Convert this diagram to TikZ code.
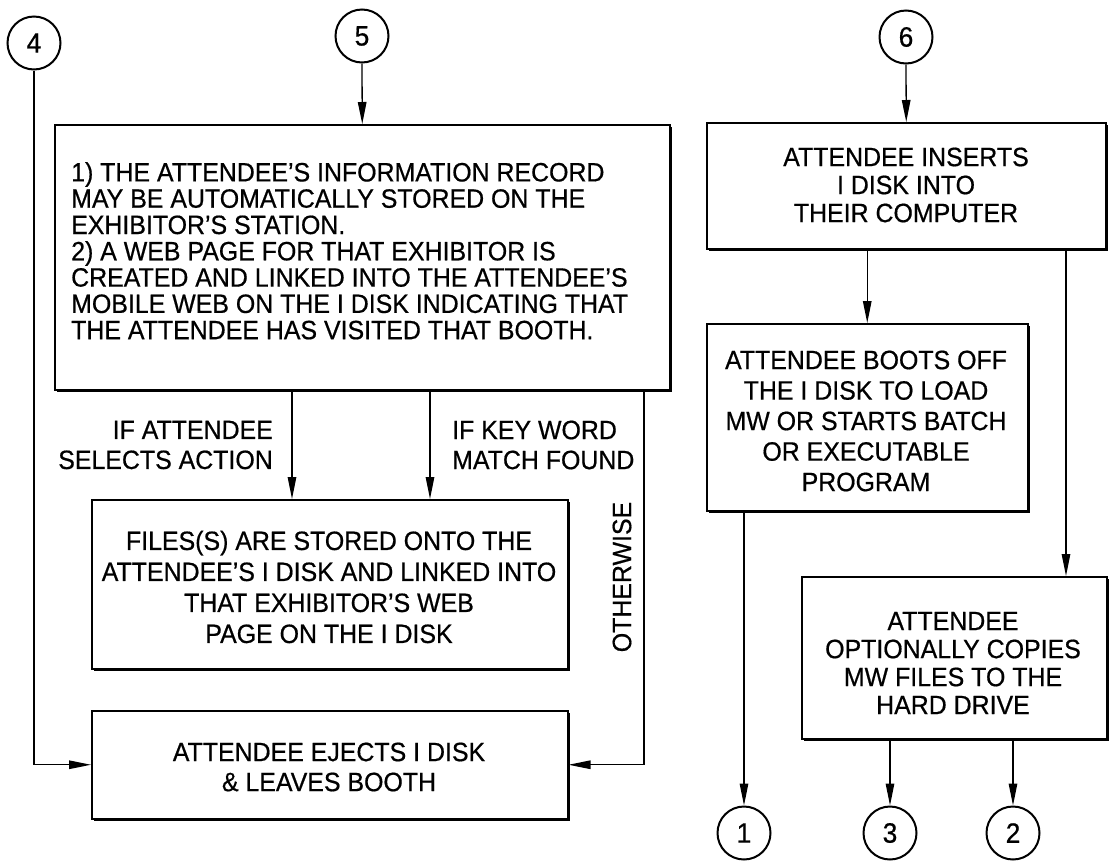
\documentclass[tikz,border=0pt]{standalone}
\usepackage{fontspec}
\setmainfont[FakeStretch=0.94,FakeBold=0.6]{Liberation Sans}
\usetikzlibrary{arrows.meta,shadows}
\begin{document}
\begin{tikzpicture}[x=1pt,y=-1pt,
  boxst/.style={draw,line width=1.5pt,fill=white,rectangle,inner sep=0pt,anchor=north west,
    drop shadow={shadow xshift=2.4pt,shadow yshift=-2.4pt,fill=black,opacity=1}},
  txt/.style={inner sep=0pt,font=\fontsize{26.5}{#1}\selectfont},
  txt/.default=26.3,
  conn/.style={circle,draw,line width=2pt,minimum size=53pt,inner sep=0pt,font=\fontsize{28}{28}\selectfont},
  arr/.style={line width=1.3pt,-{Triangle[length=22pt,width=8.5pt]}}]
\useasboundingbox (0,0) rectangle (1111,860);
% connectors (circles)
\node[conn] (c4) at (34,43) {4};
\node[conn] (c5) at (362,36) {5};
\node[conn] (c6) at (906,37) {6};
\node[conn] (c1) at (744,833) {1};
\node[conn] (c3) at (890,833) {3};
\node[conn] (c2) at (1013,833) {2};
% boxes
\node[boxst,minimum width=615pt,minimum height=265pt] (b1) at (54,124) {};
\node[boxst,minimum width=476pt,minimum height=169pt] (b2) at (91,499) {};
\node[boxst,minimum width=476pt,minimum height=108pt] (b5) at (91,710) {};
\node[boxst,minimum width=399pt,minimum height=126pt] (b3) at (706,122) {};
\node[boxst,minimum width=321pt,minimum height=187pt] (b4) at (706,323) {};
\node[boxst,minimum width=305pt,minimum height=162pt] (b6) at (801,576) {};
% texts
\node[txt,anchor=north west,align=left] (t1) at (71,162) {1) THE ATTENDEE’S INFORMATION RECORD\\MAY BE AUTOMATICALLY STORED ON THE\\EXHIBITOR’S STATION.\\2) A WEB PAGE FOR THAT EXHIBITOR IS\\CREATED AND LINKED INTO THE ATTENDEE’S\\MOBILE WEB ON THE I DISK INDICATING THAT\\THE ATTENDEE HAS VISITED THAT BOOTH.};
\node[txt=31,align=center] (t2) at (329,587) {FILES(S) ARE STORED ONTO THE\\ATTENDEE’S I DISK AND LINKED INTO\\THAT EXHIBITOR’S WEB\\PAGE ON THE I DISK};
\node[txt=30,align=center] (t5) at (329,767) {ATTENDEE EJECTS I DISK\\\& LEAVES BOOTH};
\node[txt=28,align=center] (t3) at (906,185) {ATTENDEE INSERTS\\I DISK INTO\\THEIR COMPUTER};
\node[txt=30.5,align=center] (t4) at (866,421) {ATTENDEE BOOTS OFF\\THE I DISK TO LOAD\\MW OR STARTS BATCH\\OR EXECUTABLE\\PROGRAM};
\node[txt=28,align=center] (t6) at (953,663) {ATTENDEE\\OPTIONALLY COPIES\\MW FILES TO THE\\HARD DRIVE};
\node[txt=30,align=right,anchor=east] (la) at (273,445) {IF ATTENDEE\\SELECTS ACTION};
\node[txt=30,align=left,anchor=west] (lb) at (452,445) {IF KEY WORD\\MATCH FOUND};
\node[txt,rotate=90] (lc) at (622,577) {OTHERWISE};
% helper x positions
\coordinate (xa) at (292,0);
\coordinate (xb) at (430,0);
\coordinate (xo) at (644,0);
\coordinate (xe) at (1066,0);
% arrows
\draw[arr] (c4.south) |- (b5.west);
\draw[arr] (c5.south) -- (b1.north);
\draw[arr] (xa |- b1.south) -- (xa |- b2.north);
\draw[arr] (xb |- b1.south) -- (xb |- b2.north);
\draw[arr] (xo |- b1.south) |- (b5.east);
\draw[arr] (c6.south) -- (b3.north);
\draw[arr] (b4.north |- b3.south) -- (b4.north);
\draw[arr] (xe |- b3.south) -- (xe |- b6.north);
\draw[arr] (c1 |- b4.south) -- (c1.north);
\draw[arr] (c3 |- b6.south) -- (c3.north);
\draw[arr] (c2 |- b6.south) -- (c2.north);
\end{tikzpicture}
\end{document}
